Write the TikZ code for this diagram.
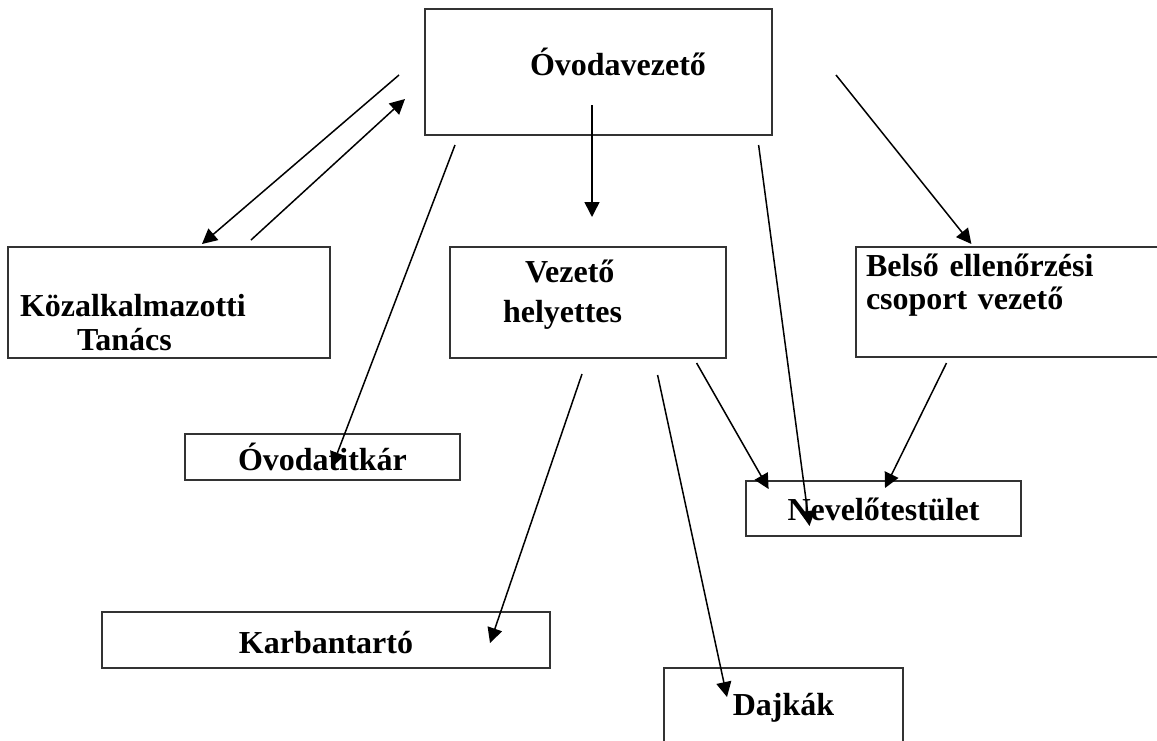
\documentclass[tikz,border=0pt]{standalone}
\usepackage{fontspec}
\setmainfont{Liberation Serif}
\usepackage{xcolor}
\usepackage{tikz}
\usetikzlibrary{positioning,calc,arrows.meta}
\tikzset{
  orgBox/.style={
    rectangle,
    draw=black!80,
    line width=0.8pt,
    inner sep=0pt,
    outer sep=0pt,
    font=\fontsize{16}{18.5}\selectfont\bfseries,
    align=center
  },
  leftBox/.style={
    orgBox,
    align=left
  },
  arrowLine/.style={
    -{Triangle[length=7.5pt,width=7.5pt]},
    line width=0.75pt
  }
}

\begin{document}
\begin{tikzpicture}[x=0.5pt,y=-0.5pt]
        \path[use as bounding box,clip] (0,0) rectangle (1157,740);

        \node[leftBox, text width=173.5pt, text height=33pt, text depth=30pt] (ovodaVez) at (598.5,72) {\hspace*{52.5pt}Óvodavezető};
        \node[leftBox, font=\fontsize{16}{17}\selectfont\bfseries, inner xsep=6pt, text width=149pt, text height=34.5pt, text depth=21pt] (kozTanacs) at (169,302.5) {Közalkalmazotti\\\hspace*{28.5pt}Tanács};
        \node[leftBox, font=\fontsize{16}{20}\selectfont\bfseries, inner xsep=26.5pt, text width=85pt, text height=17.5pt, text depth=38pt] (vezHely) at (588,302.5) {\hspace*{11pt}Vezető\\helyettes};
        \node[leftBox, font=\fontsize{16}{16.5}\selectfont\bfseries, inner xsep=5pt, text width=147pt, text height=14.5pt, text depth=40.5pt] (belsoCsop) at (1013,302) {Belső ellenőrzési\\csoport vezető};
        \node[orgBox, minimum width=137.5pt, text height=18pt, text depth=5pt] (titkar) at (322.5,457) {Óvodatitkár};
        \node[orgBox, minimum width=224pt, text height=20.5pt, text depth=7.5pt] (karban) at (326,640) {Karbantartó};
        \node[orgBox, minimum width=137.5pt, text height=19.5pt, text depth=8pt] (nevTest) at (883.5,508.5) {Nevelőtestület};
        \node[orgBox, minimum width=119.5pt, text height=23.5pt, text depth=18pt] (dajkak) at (783.5,709.5) {Dajkák};

        \draw[arrowLine] ($(ovodaVez.west)+(-26,3)$) -- ($(kozTanacs.north)+(33,-3)$);
        \draw[arrowLine] ($(kozTanacs.north)+(82,-7)$) -- ($(ovodaVez.west)+(-20,27)$);
        \draw[arrowLine] ($(ovodaVez.south)+(-6.5,-30)$) -- ($(vezHely.north)+(4,-30)$);
        \draw[arrowLine] ($(ovodaVez.south west)+(30,10)$) -- ($(titkar.center)+(9.5,10)$);
        \draw[arrowLine] ($(ovodaVez.south east)+(-13.4,10)$) -- ($(nevTest.center)+(-74,17.5)$);
        \draw[arrowLine] ($(ovodaVez.east)+(64,3)$) -- ($(belsoCsop.north west)+(115.4,-3)$);
        \draw[arrowLine] ($(vezHely.south)+(-6,16)$) -- ($(karban.east)+(-60,3)$);
        \draw[arrowLine] ($(vezHely.south)+(69.6,17)$) -- ($(dajkak.north)+(-56.5,29)$);
        \draw[arrowLine] ($(vezHely.south east)+(-29.4,5)$) -- ($(nevTest.north west)+(22.6,8)$);
        \draw[arrowLine] ($(belsoCsop.south west)+(90.5,6)$) -- ($(nevTest.north)+(1.5,7)$);
    \end{tikzpicture}
\end{document}
